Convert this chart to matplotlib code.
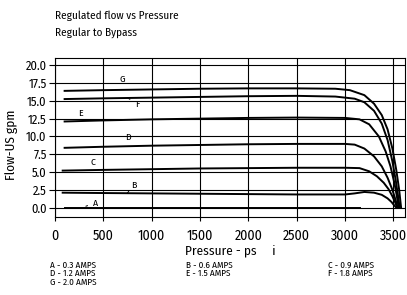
import matplotlib
matplotlib.use("Agg")
import matplotlib.pyplot as plt

plt.rcParams['font.family'] = ['Fira Sans Condensed', 'Barlow Semi Condensed', 'Roboto Condensed', 'DejaVu Sans']

# Courbes (pression en psi, débit en US gpm)
A_p = [100, 3150]
A = [0.0, 0.0]

B_p = [80, 500, 1000, 1500, 2000, 2500, 3000, 3100, 3200, 3300, 3380, 3440, 3480, 3510, 3530]
B = [2.1, 2.05, 2.0, 1.95, 1.9, 1.85, 1.85, 2.0, 2.2, 2.1, 1.8, 1.3, 0.8, 0.3, 0.0]

C_p = [80, 500, 1000, 1500, 2000, 2500, 3000, 3150, 3250, 3330, 3400, 3450, 3490, 3520, 3540]
C = [5.2, 5.3, 5.4, 5.5, 5.55, 5.6, 5.6, 5.55, 5.1, 4.4, 3.5, 2.6, 1.6, 0.7, 0.0]

D_p = [100, 500, 1000, 1500, 2000, 2500, 3000, 3100, 3200, 3300, 3380, 3440, 3490, 3520, 3545]
D = [8.4, 8.55, 8.7, 8.8, 8.9, 8.95, 8.95, 8.85, 8.3, 7.2, 5.8, 4.2, 2.5, 1.2, 0.0]

E_p = [100, 500, 1000, 1500, 2000, 2500, 3000, 3150, 3250, 3350, 3420, 3470, 3510, 3535, 3555]
E = [12.1, 12.25, 12.4, 12.5, 12.6, 12.65, 12.6, 12.4, 11.7, 10.0, 7.9, 5.8, 3.5, 1.7, 0.0]

F_p = [100, 500, 1000, 1500, 2000, 2500, 2900, 3100, 3200, 3300, 3380, 3440, 3490, 3525, 3550, 3565]
F = [15.25, 15.35, 15.45, 15.55, 15.65, 15.7, 15.6, 15.3, 14.8, 13.6, 11.8, 9.5, 6.5, 3.8, 1.5, 0.0]

G_p = [100, 500, 1000, 1500, 2000, 2500, 2900, 3050, 3200, 3300, 3380, 3440, 3490, 3530, 3560, 3580]
G = [16.4, 16.5, 16.6, 16.7, 16.75, 16.75, 16.7, 16.5, 15.8, 14.6, 13.0, 11.0, 8.3, 5.3, 2.5, 0.0]

legend_rows = [["A - 0.3 AMPS", "B - 0.6 AMPS", "C - 0.9 AMPS"],
               ["D - 1.2 AMPS", "E - 1.5 AMPS", "F - 1.8 AMPS"],
               ["G - 2.0 AMPS"]]

x_ticks = [0, 500, 1000, 1500, 2000, 2500, 3000, 3500]
y_ticks = [0.0, 2.5, 5.0, 7.5, 10.0, 12.5, 15.0, 17.5, 20.0]

fig = plt.figure(figsize=(4.07, 2.95), dpi=100)
ax = fig.add_axes([0.135, 0.266, 0.86, 0.537])

for p, q in [(A_p, A), (B_p, B), (C_p, C), (D_p, D), (E_p, E), (F_p, F), (G_p, G)]:
    ax.plot(p, q, color="black", lw=1.4, zorder=3)

ax.set_xlim(0, 3620)
ax.set_ylim(-1.25, 21.0)
ax.set_xticks(x_ticks)
ax.set_yticks(y_ticks)
ax.set_yticklabels([f"{v:.1f}" for v in y_ticks])
ax.grid(True, color="black", lw=0.8)
ax.tick_params(axis="x", labelsize=10, length=3, width=0.8, pad=6)
ax.tick_params(axis="y", labelsize=9, length=4, width=0.8, pad=2)
for s in ax.spines.values():
    s.set_linewidth(0.8)

ax.set_xlabel("Pressure - ps     i", fontsize=9.5, labelpad=1)
ax.set_ylabel("Flow-US gpm", fontsize=9.5)
ax.yaxis.set_label_coords(-0.105, 0.45)

# Étiquettes des courbes
lab = dict(fontsize=7, ha="center", va="center")
ax.text(700, 18.0, "G", **lab)
ax.text(265, 13.2, "E", **lab)
ax.text(760, 9.85, "D", **lab)
ax.text(390, 6.3, "C", **lab)
ax.annotate("F", xy=(755, 15.4), xytext=(850, 14.5), arrowprops=dict(arrowstyle="-", lw=0.7), **lab)
ax.annotate("B", xy=(745, 2.0), xytext=(820, 3.15), arrowprops=dict(arrowstyle="-", lw=0.7), **lab)
ax.annotate("A", xy=(320, 0.2), xytext=(420, 0.65), arrowprops=dict(arrowstyle="-", lw=0.7), **lab)

fig.text(55 / 407, 1 - 16 / 295, "Regulated flow vs Pressure", fontsize=8, va="center")
fig.text(55 / 407, 1 - 33 / 295, "Regular to Bypass", fontsize=8, va="center")

col_x = [50, 186, 328]
row_y = [265, 273.5, 282]
for r, row in enumerate(legend_rows):
    for c, txt in enumerate(row):
        fig.text(col_x[c] / 407, 1 - row_y[r] / 295, txt, fontsize=6.6, va="center")

fig.savefig("out.png", dpi=100)
